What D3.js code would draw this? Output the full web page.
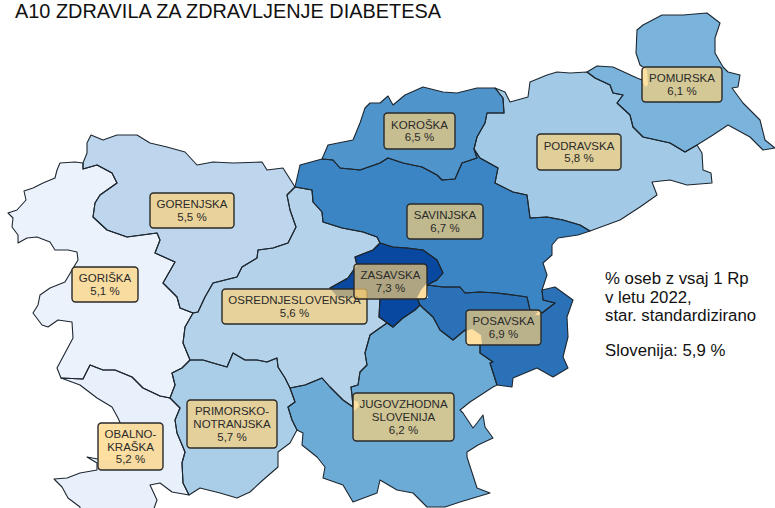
<!DOCTYPE html>
<html>
<head>
<meta charset="utf-8">
<title></title>
<style>
    html, body { margin: 0; background: #fff; overflow: hidden; }
    svg { display: block; font-family: "Liberation Sans", Arial, sans-serif; }
    .region { stroke: none; }
    .border { fill: none; stroke: #1d2730; stroke-width: 1.1; stroke-linejoin: round; }
    .box { fill: #ffd275; fill-opacity: .68; stroke: #2a2a2a; stroke-width: 1.4; }
    .box-text { font-size: 11.5px; fill: #2a2a2a; text-anchor: middle; }
</style>
</head>
<body>
<svg class="drawing"></svg>
<script src="https://d3js.org/d3.v7.min.js"></script>
<script>
var w = 775;
var h = 508;

// values
var names = ["gorenjska", "goriska", "obalno", "primorsko", "osrednje", "koroska", "savinjska", "podravska", "pomurska", "jugov", "posavska", "zasavska"];
var labels = [["GORENJSKA"], ["GORIŠKA"], ["OBALNO-", "KRAŠKA"], ["PRIMORSKO-", "NOTRANJSKA"], ["OSREDNJESLOVENSKA"], ["KOROŠKA"], ["SAVINJSKA"], ["PODRAVSKA"], ["POMURSKA"], ["JUGOVZHODNA", "SLOVENIJA"], ["POSAVSKA"], ["ZASAVSKA"]];
var rates = [5.5, 5.1, 5.2, 5.7, 5.6, 6.5, 6.7, 5.8, 6.1, 6.2, 6.9, 7.3];
var colorStops = [5.1, 5.2, 5.5, 5.8, 6.2, 6.7, 7.3];
var colorRange = ["#ecf2fc", "#e8f0fc", "#bed6ed", "#a2cae6", "#6dabd7", "#3c85c4", "#0848a0"];
var noteLines = ["% oseb z vsaj 1 Rp", "v letu 2022,", "star. standardizirano"];
var noteTotal = "Slovenija: 5,9 %";
var title = "A10 ZDRAVILA ZA ZDRAVLJENJE DIABETESA";

// shared borders, traced in pixels
var goriOuter = [[83,163],[75,162],[60,163],[57,170],[55,178],[43,183],[33,188],[24,191],[26,200],[17,210],[8,213],[13,218],[12,227],[18,235],[18,243],[27,238],[37,237],[50,242],[55,250],[68,250],[77,252],[78,260],[72,270],[65,282],[50,288],[40,295],[38,305],[33,313],[42,325],[48,327],[58,320],[72,322],[73,338],[65,353],[57,368],[61,378]];
var goriObal = [[61,378],[83,379],[90,365],[103,370],[115,370],[132,377],[143,388],[160,396],[170,398]];
var obalOuter = [[61,378],[80,385],[97,398],[112,407],[118,418],[122,427],[133,440],[127,453],[117,460],[103,460],[87,457],[97,463],[97,470],[80,473],[67,478],[54,479],[62,487],[68,498],[80,507],[80,514],[152,514],[157,500],[150,485],[160,483],[172,492],[189,495]];
var primObal = [[170,398],[180,408],[175,420],[177,433],[185,452],[182,463],[183,483],[189,495]];
var primOuter = [[189,495],[200,488],[220,493],[237,498],[250,492],[263,480],[278,467],[278,452],[290,443],[297,430]];
var primJugov = [[297,430],[292,420],[288,407],[295,402],[290,388]];
var primOsred = [[290,388],[285,378],[278,367],[277,358],[267,362],[257,360],[245,360],[233,353],[227,367],[213,363],[203,360],[190,360]];
var primGori = [[190,360],[182,368],[172,373],[175,385],[170,398]];
var goriOsred = [[190,360],[183,343],[185,327],[193,313]];
var goreGori = [[83,163],[83,169],[97,165],[112,173],[117,183],[100,195],[95,203],[93,217],[107,230],[127,237],[157,233],[160,240],[155,253],[175,262],[163,283],[177,297],[180,308],[193,313]];
var goreOuter = [[83,163],[87,153],[87,143],[91,135],[103,140],[117,135],[137,135],[150,143],[167,147],[185,152],[197,165],[213,162],[233,163],[262,162],[267,170],[283,168],[295,187]];
var goreOsred = [[295,187],[287,195],[290,210],[296,227],[288,243],[273,248],[258,250],[257,258],[242,267],[237,277],[213,283],[205,297],[198,312],[193,313]];
var saviOsred = [[295,187],[312,190],[313,202],[322,212],[323,222],[342,228],[363,232],[377,237],[380,243]];
var saviOuterW = [[295,187],[300,165],[322,159]];
var saviKoro = [[322,159],[333,160],[340,168],[360,170],[380,163],[388,158],[403,163],[422,167],[437,175],[442,180],[455,179],[462,163],[477,158],[474,149]];
var koroOuter = [[322,159],[328,145],[353,140],[360,123],[365,108],[370,103],[380,103],[388,96],[393,105],[405,95],[423,87],[443,92],[457,93],[477,88],[495,88]];
var koroPodr = [[495,88],[503,98],[504,113],[487,113],[485,123],[477,137],[474,149]];
var saviPodr = [[474,149],[480,158],[498,168],[495,183],[513,192],[527,195],[530,218],[547,217],[563,220],[580,225],[590,231]];
var podrOuterS = [[590,231],[620,220],[640,207],[657,195],[652,182],[670,180],[687,185],[712,183],[711,173],[703,170],[702,153],[697,145]];
var podrOuterN = [[495,88],[505,92],[510,102],[528,97],[530,82],[547,75],[557,72],[570,73],[587,72]];
var podrPomu = [[587,72],[595,78],[610,85],[613,93],[623,95],[617,103],[630,115],[633,127],[643,137],[670,143],[685,152],[697,145]];
var pomuOuter = [[587,72],[597,66],[613,67],[637,78],[642,80],[645,87],[648,85],[647,70],[640,65],[636,53],[637,30],[643,25],[662,15],[683,15],[707,13],[720,23],[715,38],[715,53],[723,67],[728,72],[740,75],[738,87],[732,88],[743,103],[760,120],[765,140],[775,148],[763,150],[750,137],[728,125],[713,135],[697,145]];
var saviOuterE = [[590,231],[578,235],[558,238],[552,245],[552,255],[543,263],[547,275],[542,290]];
var saviPosa = [[427,285],[443,287],[460,287],[465,293],[480,292],[497,293],[513,295],[527,297],[530,310],[542,313],[555,303],[543,300],[542,290]];
var saviZasa = [[380,243],[393,247],[407,248],[423,250],[437,260],[443,273],[437,280],[427,285]];
var zasaOsred = [[380,243],[373,250],[355,257],[357,265],[348,278],[330,288],[338,298],[380,298],[379,317],[393,327]];
var zasaJugov = [[393,327],[403,318],[415,310],[420,305]];
var zasaPosa = [[420,305],[417,298],[427,285]];
var posaOuter = [[542,290],[555,287],[573,300],[567,317],[568,337],[563,357],[568,368],[553,377],[537,368],[513,378],[512,387],[497,385]];
var posaJugov = [[497,385],[490,363],[493,362],[480,353],[480,345],[465,330],[453,340],[440,330],[433,317],[423,308],[420,305]];
var jugovOuter = [[497,385],[493,387],[470,402],[460,410],[463,413],[473,428],[477,423],[483,415],[485,427],[493,438],[478,445],[467,452],[467,457],[477,488],[490,493],[460,502],[445,507],[427,507],[413,493],[397,490],[380,480],[377,493],[353,502],[343,485],[323,478],[325,467],[317,457],[302,445],[303,433],[297,430]];
var osredJugov = [[290,388],[305,385],[322,378],[330,387],[343,400],[353,407],[352,395],[351,387],[358,385],[360,372],[367,365],[365,353],[370,335],[387,323],[393,327]];

function rev(a) { return a.slice().reverse(); }
function ring() { return [].concat.apply([], arguments); }

var shapes = {
    gorenjska: ring(goreOuter, goreOsred, rev(goreGori)),
    goriska: ring(goreGori, rev(goriOsred), primGori, rev(goriObal), rev(goriOuter)),
    obalno: ring(obalOuter, rev(primObal), rev(goriObal)),
    primorsko: ring(primObal, primOuter, primJugov, primOsred, primGori),
    osrednje: ring(saviOsred, zasaOsred, rev(osredJugov), primOsred, goriOsred, rev(goreOsred)),
    koroska: ring(koroOuter, koroPodr, rev(saviKoro)),
    savinjska: ring(saviOuterW, saviKoro, saviPodr, saviOuterE, rev(saviPosa), rev(saviZasa), rev(saviOsred)),
    podravska: ring(podrOuterN, podrPomu, rev(podrOuterS), rev(saviPodr), rev(koroPodr)),
    pomurska: ring(pomuOuter, rev(podrPomu)),
    jugov: ring(osredJugov, zasaJugov, rev(posaJugov), jugovOuter, primJugov),
    posavska: ring(saviPosa, posaOuter, posaJugov, zasaPosa),
    zasavska: ring(saviZasa, rev(zasaPosa), rev(zasaJugov), rev(zasaOsred))
};

// where the white shows through under the labels
var gaps = [
    [[417,298],[421,290],[427,283],[428,298]],
    [[466,331],[472,329],[481,335],[482,345],[466,345]],
    [[353,400],[358,402],[359,406],[354,411]],
    [[535,315],[539,311],[540,315]]
];

var boxes = [[150,193,84,35],[72,267,66,35],[98,423,65,47],[187,400,90,48],[222,289,145,35],[384,113,71,36],[407,204,76,35],[537,134,84,36],[642,67,80,35],[353,393,101,48],[466,310,75,35],[354,264,73,35]];

var color = d3.scaleLinear().domain(colorStops).range(colorRange);

var geo = {
    type: "FeatureCollection",
    features: names.map(function(n, i) {
        return { type: "Feature", properties: { rate: rates[i] }, geometry: { type: "Polygon", coordinates: [shapes[n]] } };
    })
};
var path = d3.geoPath(d3.geoIdentity());

var svg = d3.select(".drawing").attr("width", w).attr("height", h);

// borders don't show through the label boxes, so cut them out
var cut = "M0,0H" + w + "V" + h + "H0Z" + boxes.map(function(b) {
    return "M" + b[0] + "," + b[1] + "h" + b[2] + "v" + b[3] + "h" + (-b[2]) + "Z";
}).join("");
svg.append("clipPath").attr("id", "outside")
    .append("path").attr("d", cut).attr("clip-rule", "evenodd");

svg.selectAll(".region")
    .data(geo.features)
    .enter().append("path")
    .attr("class", "region")
    .attr("fill", function(d) { return color(d.properties.rate); })
    .attr("d", path);

svg.selectAll(".gap")
    .data(gaps)
    .enter().append("path")
    .attr("class", "gap")
    .attr("fill", "#fff")
    .attr("d", function(d) { return d3.line()(d) + "Z"; });

svg.append("g").attr("clip-path", "url(#outside)")
    .selectAll(".border")
    .data(geo.features)
    .enter().append("path")
    .attr("class", "border")
    .attr("d", path);

var fmt = function(v) { return v.toFixed(1).replace(".", ",") + " %"; };

names.forEach(function(n, i) {
    var b = boxes[i];
    svg.append("rect").attr("class", "box")
        .attr("x", b[0]).attr("y", b[1]).attr("width", b[2]).attr("height", b[3]).attr("rx", 3.5);
    var lines = labels[i].concat([fmt(rates[i])]);
    var cx = b[0] + b[2] / 2;
    var top = b[1] + b[3] / 2 - (lines.length - 1) * 6.3 + 4;
    lines.forEach(function(t, j) {
        svg.append("text").attr("class", "box-text").attr("x", cx).attr("y", top + j * 12.6).text(t);
    });
});

svg.append("text").attr("x", 15).attr("y", 17.5).attr("font-size", 19.9).attr("fill", "#111").text(title);

svg.selectAll(".note")
    .data(noteLines)
    .enter().append("text")
    .attr("class", "note")
    .attr("x", 605)
    .attr("y", function(d, i) { return 284 + i * 18.5; })
    .attr("font-size", 16.8)
    .attr("fill", "#111")
    .text(function(d) { return d; });
svg.append("text").attr("x", 605).attr("y", 356).attr("font-size", 16.8).attr("fill", "#111").text(noteTotal);
</script>
</body>
</html>
